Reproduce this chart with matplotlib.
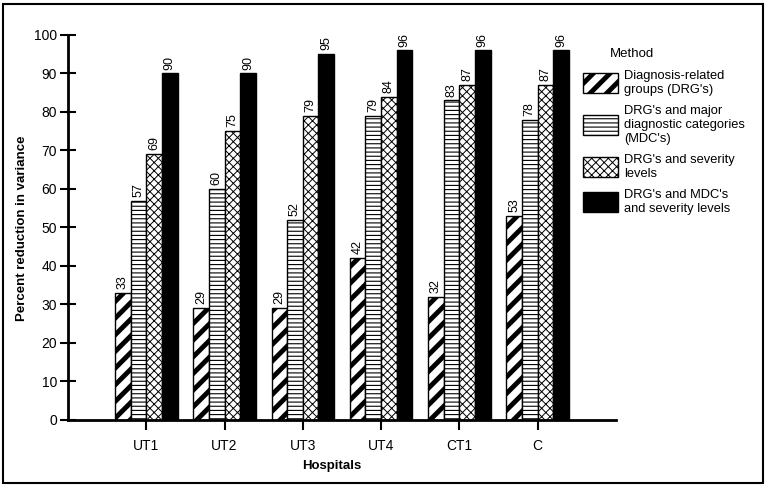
import matplotlib
matplotlib.use('Agg')
import matplotlib.pyplot as plt
from matplotlib.patches import Rectangle, Patch
import numpy as np

plt.rcParams['font.family'] = ['Liberation Sans', 'DejaVu Sans']

hospitals = ['UT1', 'UT2', 'UT3', 'UT4', 'CT1', 'C']
methods = ["Diagnosis-related\ngroups (DRG's)",
           "DRG's and major\ndiagnostic categories\n(MDC's)",
           "DRG's and severity\nlevels",
           "DRG's and MDC's\nand severity levels"]
drg = [33, 29, 29, 42, 32, 53]
drg_mdc = [57, 60, 52, 79, 83, 78]
drg_sev = [69, 75, 79, 84, 87, 87]
drg_mdc_sev = [90, 90, 95, 96, 96, 96]

series = [drg, drg_mdc, drg_sev, drg_mdc_sev]
hatches = ['//', '----', 'xxxx', None]
hatch_lw = [3.5, 0.8, 0.7, 1.0]
faces = ['white', 'white', 'white', 'black']

fig = plt.figure(figsize=(7.66, 4.9), dpi=100)
ax = fig.add_axes([0.0888, 0.1429, 0.804 - 0.0888, 0.9286 - 0.1429])

x = np.arange(len(hospitals))
w = 0.2
offsets = [-0.3, -0.1, 0.1, 0.3]
handles = []
for vals, h, lw, fc, off, lab in zip(series, hatches, hatch_lw, faces, offsets, methods):
    with plt.rc_context({'hatch.linewidth': lw, 'hatch.color': 'black'}):
        bars = ax.bar(x + off, vals, w, color=fc, edgecolor='black', hatch=h, linewidth=1.0)
        for b in bars:
            if hasattr(b, 'set_hatch_linewidth'):
                b.set_hatch_linewidth(lw)
        handles.append(Patch(facecolor=fc, edgecolor='black', hatch=h, linewidth=1.0, label=lab))
    for b, v in zip(bars, vals):
        ax.text(b.get_x() + b.get_width() / 2, v + 1, str(v), rotation=90,
                ha='center', va='bottom', fontsize=9)

ax.set_xlim(-1.0, 6.0)
ax.set_ylim(0, 100)
ax.set_yticks(range(0, 101, 10))
ax.set_xticks(x)
ax.set_xticklabels(hospitals, fontsize=10)
ax.spines['top'].set_visible(False)
ax.spines['right'].set_visible(False)
ax.spines['left'].set_linewidth(2)
ax.spines['bottom'].set_linewidth(2)
ax.tick_params(axis='y', direction='inout', length=12, width=1.5, labelsize=10, pad=2)
ax.tick_params(axis='x', direction='out', length=7, width=1.5, pad=7)

fig.text(22 / 766, 1 - 228 / 490, 'Percent reduction in variance', rotation=90,
         ha='center', va='center', fontsize=9.5, fontweight='bold')
fig.text(332 / 766, 1 - 466 / 490, 'Hospitals', ha='center', va='center',
         fontsize=9.5, fontweight='bold')

fig.text(610 / 766, 1 - 54 / 490, 'Method', ha='left', va='center', fontsize=9.5)
leg = fig.legend(handles=handles, loc='upper left', bbox_to_anchor=(583 / 766, 1 - 70 / 490),
                 frameon=False, fontsize=9.3, handlelength=2.7, handleheight=2.0,
                 handletextpad=0.5, labelspacing=0.72, borderaxespad=0, borderpad=0)
for p, lw in zip(leg.get_patches(), hatch_lw):
    if hasattr(p, 'set_hatch_linewidth'):
        p.set_hatch_linewidth(lw)

fig.patches.append(Rectangle((3 / 766, 1 - 483 / 490), 760 / 766, 479 / 490,
                             transform=fig.transFigure, fill=False,
                             edgecolor='black', linewidth=1.5))

fig.savefig('out.png', dpi=100)
